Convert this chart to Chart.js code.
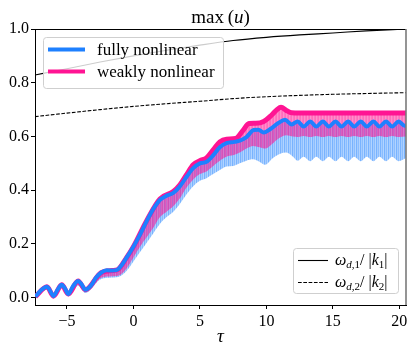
<!DOCTYPE html>
<html>
<head>
<meta charset="utf-8">
<script src="https://cdn.jsdelivr.net/npm/chart.js@4.4.1/dist/chart.umd.min.js"></script>
<style>
html, body { margin: 0; padding: 0; background: #fff; }
</style>
</head>
<body>
<canvas id="maxChart" width="415" height="353"></canvas>
<script>
// tick labels
var xTicks = [-5, 0, 5, 10, 15, 20];
var yTicks = [0, 0.2, 0.4, 0.6, 0.8, 1.0];

// fully nonlinear (blue)
var tauFully = [
    -7.37, -6.95, -6.5, -6.25, -6.01, -5.7, -5.39, -5.15, -4.9, -4.55,
    -4.16, -3.9, -3.61, -3.2, -2.8, -2.43, -2.0, -1.6, -1.2, -0.9,
    -0.5, 0, 0.5, 1.0, 1.5, 2.0, 2.5, 3.0, 3.5, 4.0,
    4.5, 5.0, 5.5, 6.0, 6.5, 7.0, 7.6, 8.0, 8.5, 9.05,
    9.4, 9.8, 10.3, 10.9, 11.4, 11.9, 12.35, 12.8, 13.3, 13.75,
    14.25, 14.7, 15.2, 15.65, 16.15, 16.6, 17.1, 17.55, 18.05, 18.5,
    19.0, 19.45, 19.95, 20.4, 20.5
];
var fullyNonlinear = [
    0.004, 0.028, 0.041, 0.025, 0.006, 0.030, 0.048, 0.035, 0.014, 0.042,
    0.062, 0.050, 0.030, 0.045, 0.075, 0.093, 0.102, 0.101, 0.104, 0.120,
    0.150, 0.190, 0.235, 0.285, 0.330, 0.364, 0.380, 0.390, 0.415, 0.450,
    0.482, 0.500, 0.506, 0.530, 0.560, 0.575, 0.580, 0.585, 0.598, 0.624,
    0.625, 0.615, 0.628, 0.650, 0.662, 0.645, 0.656, 0.637, 0.656, 0.637,
    0.656, 0.637, 0.656, 0.637, 0.656, 0.637, 0.656, 0.637, 0.656, 0.637,
    0.656, 0.637, 0.656, 0.640, 0.642
];

// weakly nonlinear (pink)
var tauWeakly = [
    -7.37, -6.5, -6.01, -5.39, -4.9, -4.16, -3.61, -2.43, -1.6, -1.2,
    -0.5, 0, 1, 2, 3, 3.5, 4, 4.5, 5, 5.5,
    6, 6.5, 7, 7.7, 8.2, 8.7, 9.2, 9.8, 10.4, 10.8,
    11.1, 11.5, 11.9, 12.5, 20.5
];
var weaklyNonlinear = [
    0.004, 0.041, 0.006, 0.048, 0.014, 0.062, 0.030, 0.093, 0.101, 0.104,
    0.150, 0.190, 0.287, 0.368, 0.395, 0.420, 0.458, 0.495, 0.510, 0.520,
    0.550, 0.580, 0.590, 0.593, 0.620, 0.648, 0.649, 0.656, 0.680, 0.700,
    0.709, 0.697, 0.688, 0.687, 0.687
];

// lower edges of the oscillation bands
var tauBand = [
    -7.37, -6.5, -6.01, -5.39, -4.9, -4.16, -3.61, -2.43, -1.6, -1.0,
    -0.5, 0, 0.5, 1, 1.5, 2, 2.5, 3, 3.5, 4,
    4.5, 5, 5.5, 6, 6.5, 7, 7.5, 8, 8.5, 9,
    9.5, 9.9, 10.5, 11, 11.5, 12, 12.35, 12.8, 13.3, 13.75,
    14.25, 14.7, 15.2, 15.65, 16.15, 16.6, 17.1, 17.55, 18.05, 18.5,
    19.0, 19.45, 19.95, 20.5
];
var fullyLower = [
    0.000, 0.030, 0.000, 0.035, 0.005, 0.045, 0.018, 0.070, 0.075, 0.080,
    0.100, 0.135, 0.170, 0.205, 0.240, 0.275, 0.300, 0.320, 0.350, 0.385,
    0.415, 0.435, 0.445, 0.460, 0.475, 0.488, 0.490, 0.500, 0.510, 0.515,
    0.505, 0.495, 0.520, 0.535, 0.540, 0.525, 0.510, 0.525, 0.508, 0.525,
    0.508, 0.525, 0.508, 0.525, 0.508, 0.525, 0.508, 0.525, 0.508, 0.525,
    0.508, 0.525, 0.508, 0.520
];
var weaklyLower = [
    0.000, 0.032, 0.000, 0.038, 0.006, 0.048, 0.020, 0.074, 0.080, 0.085,
    0.110, 0.150, 0.190, 0.225, 0.260, 0.300, 0.320, 0.340, 0.370, 0.410,
    0.440, 0.460, 0.470, 0.490, 0.510, 0.525, 0.530, 0.540, 0.555, 0.565,
    0.560, 0.555, 0.575, 0.595, 0.605, 0.600, 0.598, 0.602, 0.598, 0.602,
    0.598, 0.602, 0.598, 0.602, 0.598, 0.602, 0.598, 0.602, 0.598, 0.602,
    0.598, 0.602, 0.598, 0.600
];

// phase speeds
var tauDisp = [-7.4, -5, -2.5, 0, 2.5, 5, 7.5, 10, 12.5, 15, 17.5, 20.5];
var omega1 = [0.829, 0.852, 0.877, 0.900, 0.921, 0.940, 0.957, 0.969, 0.978, 0.985, 0.993, 1.000];
var omega2 = [0.674, 0.687, 0.700, 0.712, 0.722, 0.731, 0.741, 0.748, 0.753, 0.757, 0.760, 0.763];


var FONT = "'Liberation Serif', 'DejaVu Serif', serif";
var BLUE = '#1e80ff';
var PINK = '#ff1493';

function toPoints(xs, ys) {
    return xs.map(function (x, i) { return { x: x, y: ys[i] }; });
}

// striped fill to look like the dense oscillation in the band
function stripes(ctx, rgb, alphas) {
    var c = document.createElement('canvas');
    c.width = alphas.length;
    c.height = 1;
    var p = c.getContext('2d');
    alphas.forEach(function (a, i) {
        p.fillStyle = 'rgba(' + rgb + ',' + a + ')';
        p.fillRect(i, 0, 1, 1);
    });
    return ctx.createPattern(c, 'repeat');
}

// draws text runs with mixed italic / subscript
function drawRuns(ctx, runs, x, y) {
    runs.forEach(function (r) {
        ctx.font = (r[1] ? 'italic ' : '') + r[2] + 'px ' + FONT;
        ctx.fillText(r[0], x, y + (r[3] || 0));
        x += ctx.measureText(r[0]).width;
    });
    return x;
}

function runsWidth(ctx, runs) {
    var w = 0;
    runs.forEach(function (r) {
        ctx.font = (r[1] ? 'italic ' : '') + r[2] + 'px ' + FONT;
        w += ctx.measureText(r[0]).width;
    });
    return w;
}

function roundBox(ctx, x, y, w, h, r) {
    ctx.beginPath();
    ctx.moveTo(x + r, y);
    ctx.lineTo(x + w - r, y);
    ctx.quadraticCurveTo(x + w, y, x + w, y + r);
    ctx.lineTo(x + w, y + h - r);
    ctx.quadraticCurveTo(x + w, y + h, x + w - r, y + h);
    ctx.lineTo(x + r, y + h);
    ctx.quadraticCurveTo(x, y + h, x, y + h - r);
    ctx.lineTo(x, y + r);
    ctx.quadraticCurveTo(x, y, x + r, y);
    ctx.closePath();
    ctx.fillStyle = 'rgba(255,255,255,0.8)';
    ctx.fill();
    ctx.strokeStyle = '#cfcfcf';
    ctx.lineWidth = 1;
    ctx.stroke();
}

var decorPlugin = {
    id: 'decor',
    afterDraw: function (chart) {
        var ctx = chart.ctx;
        var a = chart.chartArea;
        ctx.save();

        // top and right spines
        ctx.strokeStyle = '#000';
        ctx.lineWidth = 1;
        ctx.beginPath();
        ctx.moveTo(a.left, a.top + 0.5);
        ctx.lineTo(a.right, a.top + 0.5);
        ctx.stroke();
        ctx.strokeStyle = '#7a7a7a';
        ctx.lineWidth = 1.6;
        ctx.beginPath();
        ctx.moveTo(a.right, a.top);
        ctx.lineTo(a.right, a.bottom);
        ctx.stroke();

        ctx.fillStyle = '#000';
        ctx.textBaseline = 'alphabetic';

        // title
        var title = [['max', false, 19], ['\u2009(', false, 19], ['u', true, 19], [')', false, 19]];
        var cx = (a.left + a.right) / 2;
        drawRuns(ctx, title, cx - runsWidth(ctx, title) / 2, 23);

        // x axis title
        var tau = [['\u03c4', true, 19]];
        drawRuns(ctx, tau, cx - runsWidth(ctx, tau) / 2, 342);

        // legend upper left
        roundBox(ctx, 43.5, 37.5, 180, 51, 3);
        ctx.lineWidth = 4;
        ctx.strokeStyle = BLUE;
        ctx.beginPath(); ctx.moveTo(48, 49.5); ctx.lineTo(85, 49.5); ctx.stroke();
        ctx.strokeStyle = PINK;
        ctx.beginPath(); ctx.moveTo(48, 71.5); ctx.lineTo(85, 71.5); ctx.stroke();
        ctx.fillStyle = '#000';
        drawRuns(ctx, [['fully nonlinear', false, 17]], 97, 55);
        drawRuns(ctx, [['weakly nonlinear', false, 17]], 97, 77);

        // legend lower right
        roundBox(ctx, 293.5, 248.5, 105, 45, 3);
        ctx.strokeStyle = '#000';
        ctx.lineWidth = 1.1;
        ctx.beginPath(); ctx.moveTo(298, 260.5); ctx.lineTo(328, 260.5); ctx.stroke();
        ctx.setLineDash([3.7, 1.6]);
        ctx.beginPath(); ctx.moveTo(298, 282.5); ctx.lineTo(328, 282.5); ctx.stroke();
        ctx.setLineDash([]);
        ctx.fillStyle = '#000';
        drawRuns(ctx, [['\u03c9', true, 16], ['d', true, 11, 3], [',1', false, 11, 3], ['/ |', false, 16], ['k', true, 16], ['1', false, 11, 3], ['|', false, 16]], 335, 265);
        drawRuns(ctx, [['\u03c9', true, 16], ['d', true, 11, 3], [',2', false, 11, 3], ['/ |', false, 16], ['k', true, 16], ['2', false, 11, 3], ['|', false, 16]], 335, 287);

        ctx.restore();
    }
};

var canvas = document.getElementById('maxChart');
var ctx = canvas.getContext('2d');
var blueStripes = stripes(ctx, '30,128,255', [0.6, 0.4, 0.52, 0.34]);
var pinkStripes = stripes(ctx, '255,20,147', [0.62, 0.48, 0.58]);

Chart.defaults.font.family = FONT;
Chart.defaults.font.size = 16;
Chart.defaults.color = '#000';

new Chart(ctx, {
    type: 'line',
    data: {
        datasets: [
            {
                label: 'fully nonlinear',
                data: toPoints(tauFully, fullyNonlinear),
                borderColor: BLUE,
                borderWidth: 4,
                pointRadius: 0,
                fill: false,
                cubicInterpolationMode: 'monotone'
            },
            {
                label: 'weakly nonlinear',
                data: toPoints(tauWeakly, weaklyNonlinear),
                borderColor: PINK,
                borderWidth: 5,
                pointRadius: 0,
                fill: false,
                cubicInterpolationMode: 'monotone'
            },
            {
                label: 'weakly band',
                data: toPoints(tauWeakly, weaklyNonlinear),
                borderWidth: 0,
                borderColor: 'rgba(0,0,0,0)',
                backgroundColor: pinkStripes,
                pointRadius: 0,
                fill: 4,
                cubicInterpolationMode: 'monotone'
            },
            {
                label: 'fully band',
                data: toPoints(tauFully, fullyNonlinear),
                borderWidth: 0,
                borderColor: 'rgba(0,0,0,0)',
                backgroundColor: blueStripes,
                pointRadius: 0,
                fill: 5,
                cubicInterpolationMode: 'monotone'
            },
            {
                label: 'weakly lower',
                data: toPoints(tauBand, weaklyLower),
                borderWidth: 0,
                borderColor: 'rgba(0,0,0,0)',
                pointRadius: 0,
                fill: false,
                cubicInterpolationMode: 'monotone'
            },
            {
                label: 'fully lower',
                data: toPoints(tauBand, fullyLower),
                borderWidth: 0,
                borderColor: 'rgba(0,0,0,0)',
                pointRadius: 0,
                fill: false,
                cubicInterpolationMode: 'monotone'
            },
            {
                label: 'omega1',
                data: toPoints(tauDisp, omega1),
                borderColor: '#000',
                borderWidth: 1.1,
                pointRadius: 0,
                fill: false,
                cubicInterpolationMode: 'monotone'
            },
            {
                label: 'omega2',
                data: toPoints(tauDisp, omega2),
                borderColor: '#000',
                borderWidth: 1.1,
                borderDash: [3.7, 1.6],
                pointRadius: 0,
                fill: false,
                cubicInterpolationMode: 'monotone'
            }
        ]
    },
    options: {
        responsive: false,
        animation: false,
        layout: { padding: { top: 29, right: 9, left: 0, bottom: 0 } },
        plugins: {
            legend: { display: false },
            tooltip: { enabled: false },
            title: { display: false }
        },
        scales: {
            x: {
                type: 'linear',
                min: -7.4,
                max: 20.5,
                afterBuildTicks: function (s) { s.ticks = xTicks.map(function (v) { return { value: v }; }); },
                afterFit: function (s) { s.height = 48; },
                ticks: {
                    autoSkip: false,
                    maxRotation: 0,
                    padding: 3,
                    callback: function (v) { return v < 0 ? '\u2212' + Math.abs(v) : String(v); }
                },
                grid: { drawOnChartArea: false, tickLength: 4, color: '#000' },
                border: { color: '#000', width: 1 }
            },
            y: {
                min: -0.027,
                max: 1.0,
                afterBuildTicks: function (s) { s.ticks = yTicks.map(function (v) { return { value: v }; }); },
                afterFit: function (s) { s.width = 35; },
                ticks: {
                    padding: 2,
                    callback: function (v) { return v.toFixed(1); }
                },
                grid: { drawOnChartArea: false, tickLength: 4, color: '#000' },
                border: { color: '#000', width: 1 }
            }
        }
    },
    plugins: [decorPlugin]
});
</script>
</body>
</html>
